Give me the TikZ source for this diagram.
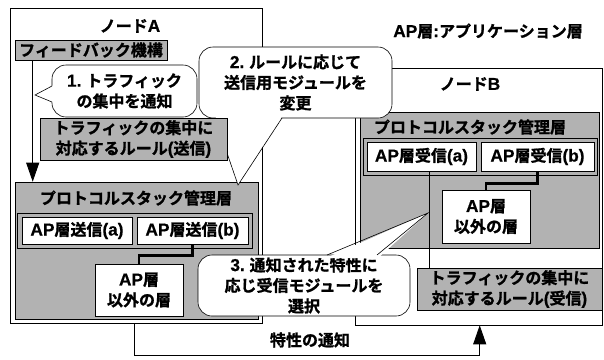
\documentclass[tikz,border=0pt]{standalone}
\usepackage{fontspec}
\setmainfont{Noto Sans CJK JP}[BoldFont={Noto Sans CJK JP Bold}, BoldFeatures={FakeBold=1.2}]
\newfontfamily\latf{Liberation Sans}[Scale=1.08, BoldFeatures={FakeBold=0.6}]
\newcommand\ltn[1]{{\latf\bfseries #1}}
\usetikzlibrary{arrows.meta}
\begin{document}
\begin{tikzpicture}[x=1pt,y=-1pt,
  every node/.style={font=\fontsize{16}{20.5}\selectfont\bfseries, inner sep=0pt, align=center},
  hatch/.style={draw=black, fill=black!30, line width=0.6pt},
  wbox/.style={draw=black, fill=white, line width=0.6pt},
  frame/.style={draw=black, line width=0.6pt},
  callout/.style={draw=black, fill=white, rounded corners=14pt, line width=0.6pt},
  ptr/.style={draw=black, line width=0.6pt},
  thickline/.style={line width=2.6pt},
  thinline/.style={line width=0.5pt},
  tri/.style={-{Triangle[length=19pt,width=13pt]}, line width=0.8pt}
]
\useasboundingbox (0,0) rectangle (604,359);

% node frames
\node[frame, minimum width=252pt, minimum height=315pt] (nodeA) at (136,165.5) {};
\node[frame, minimum width=247pt, minimum height=257pt] (nodeB) at (478.5,196.5) {};
\node (labA) at (130,26) {ノード\ltn{A}};
\node (labB) at (470,84) {ノード\ltn{B}};
\node (aplab) at (488,31) {\ltn{AP}層\ltn{:}アプリケーション層};

% node A contents
\node[hatch, minimum width=152pt, minimum height=20pt] (fb) at (91,50) {フィードバック機構};
\node[hatch, minimum width=243pt, minimum height=137pt] (protA) at (136.5,250.5) {};
\node (protAt) at (136,198) {プロトコルスタック管理層};
\node[hatch, minimum width=235pt, minimum height=35pt] (contA) at (134.5,230.5) {};
\node[wbox, minimum width=110pt, minimum height=27pt] (sa) at (77,230.5) {\ltn{AP}層送信\ltn{(a)}};
\node[wbox, minimum width=111pt, minimum height=27pt] (sb) at (192.5,230.5) {\ltn{AP}層送信\ltn{(b)}};
\node[wbox, minimum width=88pt, minimum height=52pt] (othA) at (139,290) {\ltn{AP}層\\以外の層};
\draw[thickline] (sb.south) -- ++(0,11) -| (othA.north);

% node B contents
\node[hatch, minimum width=239pt, minimum height=136pt] (protB) at (479.5,180) {};
\node (protBt) at (470,127) {プロトコルスタック管理層};
\node[hatch, minimum width=234pt, minimum height=37pt] (contB) at (480,156.5) {};
\node[wbox, minimum width=109pt, minimum height=29pt] (ra) at (421.5,156.5) {\ltn{AP}層受信\ltn{(a)}};
\node[wbox, minimum width=113pt, minimum height=29pt] (rb) at (537.5,156.5) {\ltn{AP}層受信\ltn{(b)}};
\node[wbox, minimum width=88pt, minimum height=53pt] (othB) at (486,216.5) {\ltn{AP}層\\以外の層};
\draw[thickline] (rb.south) -- ++(0,12) -| (othB.north);
\node[hatch, minimum width=185pt, minimum height=42pt] (ruleR) at (509.5,289) {トラフィックの集中に\\対応するルール\ltn{(}受信\ltn{)}};
\draw[thinline] ([xshift=13pt]ruleR.north west) -- ([xshift=13pt]ruleR.north west |- ra.south);

% feedback arrow
\draw[tri] ([xshift=18pt]fb.south west) -- ([xshift=18pt]fb.south west |- protA.north);

% callout 1
\node[callout, minimum width=145pt, minimum height=52pt] (c1) at (124.5,91) {\ltn{1.} トラフィック\\の集中を通知};
\fill[white] (54,85) -- (35,95) -- (54,103) -- cycle;
\draw[ptr] (52,86) -- (35,95) -- (52,102);

% callout 2
\node[callout, minimum width=193pt, minimum height=71pt] (c2) at (295.5,82.5) {\ltn{2.} ルールに応じて\\送信用モジュールを\\変更};
\fill[white] (215,115) -- (238,185) -- (283,115) -- cycle;
\draw[ptr] (215,118) -- (238,185) -- (282,118);

\node[hatch, minimum width=187pt, minimum height=42pt] (ruleS) at (133.5,139) {トラフィックの集中に\\対応するルール\ltn{(}送信\ltn{)}};

% callout 3
\node[callout, minimum width=212pt, minimum height=61pt] (c3) at (304,285.5) {\ltn{3.} 通知された特性に\\応じ受信モジュールを\\選択};
\fill[white] (326,258) -- (428,213) -- (378,258) -- cycle;
\draw[ptr] (327,255) -- (428,213) -- (377,255);

% characteristic notification
\draw[tri] ([xshift=125pt]nodeA.south west) -- ++(0,32) -| ([xshift=125pt]nodeB.south west);
\node (tsuchi) at (310,340) {特性の通知};
\end{tikzpicture}
\end{document}
